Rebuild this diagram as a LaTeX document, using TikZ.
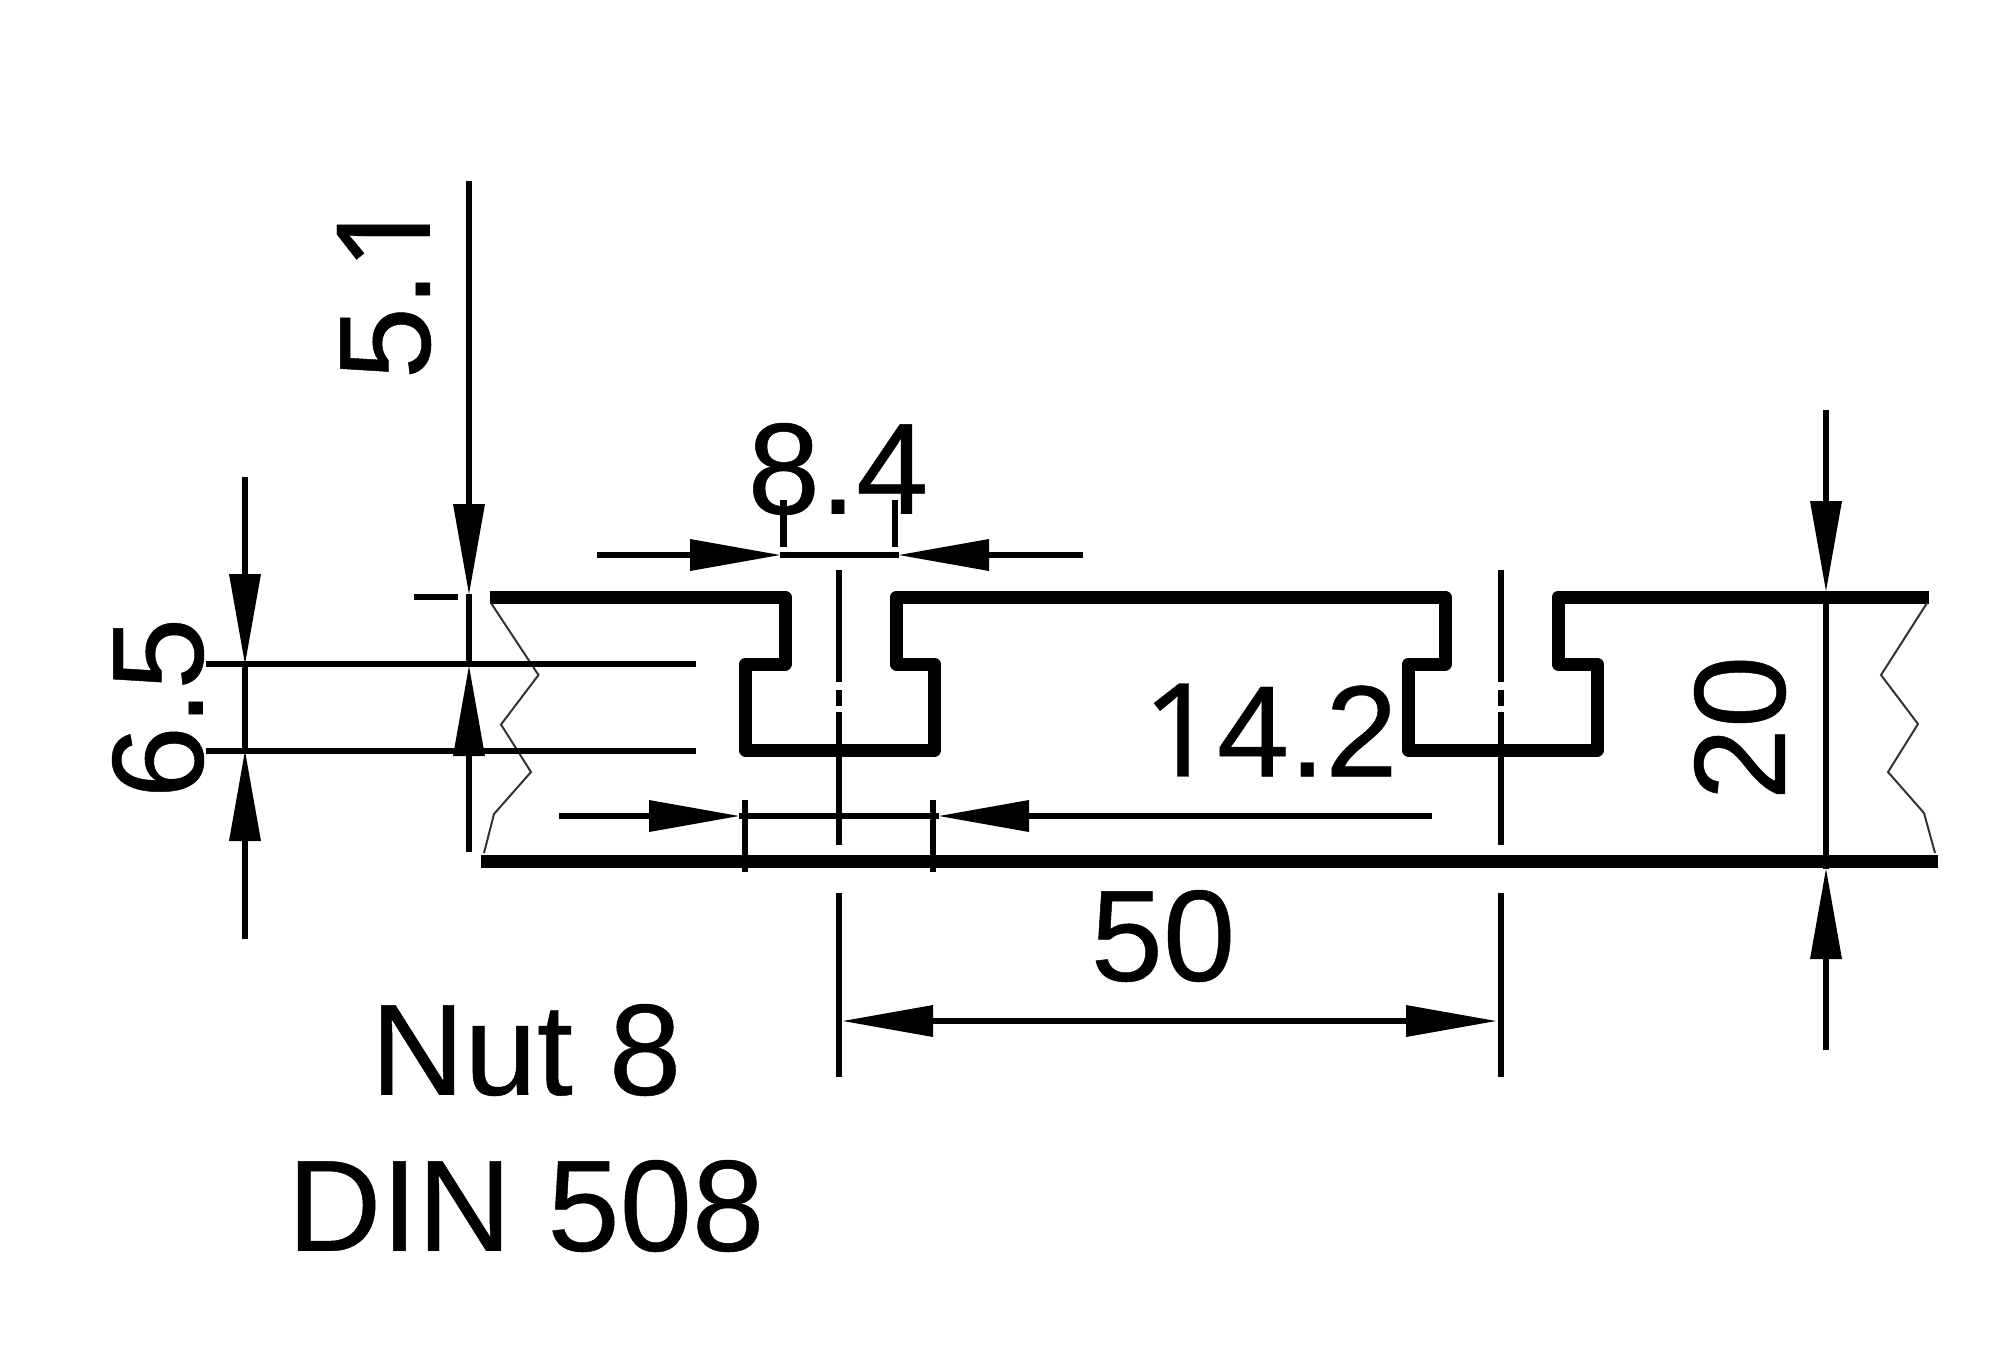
\documentclass[tikz,border=0pt]{standalone}
\usepackage{fontspec}
\setmainfont{Liberation Sans}[BoldFont=Liberation Sans, BoldFeatures={FakeBold=0.35}]
\newfontfamily\onefont{Noto Sans}[BoldFont=Noto Sans, BoldFeatures={FakeBold=0.2}]
\usetikzlibrary{arrows.meta}

\begin{document}
\begin{tikzpicture}[x=1pt,y=-1pt]
    \tikzstyle{outline}=[line width=13pt, line join=round]
    \tikzstyle{thin}=[line width=2pt, black!80]
    \tikzstyle{dimen}=[line width=6.5pt]
    \tikzstyle{connect}=[-{Triangle[length=90pt,width=32pt,line width=0pt]}, line width=6.5pt]
    \tikzstyle{connectboth}=[{Triangle[length=90pt,width=32pt,line width=0pt]}-{Triangle[length=90pt,width=32pt,line width=0pt]}, line width=6.5pt]
    \tikzstyle{size}=[inner sep=0pt, font=\fontsize{130}{130}\selectfont\bfseries]

      \useasboundingbox (0,0) rectangle (2000,1358);

      % labels
      \node[size] (lab84) at (838,469) {8.4};
      \node[size] (lab142) at (1270,730) {{\onefont 1}4.2};
      \node[size] (lab50) at (1163,936) {50};
      \node[size, rotate=90] (lab20) at (1740,728) {20};
      \node[size, rotate=90] (lab51) at (384,288) {5.{\onefont 1}};
      \node[size, rotate=90] (lab65) at (158,708) {6.5};
      \node[size] (nut) at (526,1050) {Nut 8};
      \node[size] (din) at (526,1206) {DIN 508};

      % profile
      \draw[outline] (490,597) -- (785,597) -- (785,664) -- (745.5,664) -- (745.5,750)
        -- (934.5,750) -- (934.5,664) -- (896.5,664) -- (896.5,597) -- (1445,597)
        -- (1445,664) -- (1408.5,664) -- (1408.5,750) -- (1597,750) -- (1597,664)
        -- (1558,664) -- (1558,597) -- (1929,597);
      \draw[outline] (481,861) -- (1938,861);
      \draw[thin] (491,603) -- (538.5,675) -- (501,724.5) -- (531,772) -- (494,814) -- (484,853);
      \draw[thin] (1927,603) -- (1881,675) -- (1918,724) -- (1888,772) -- (1924,813) -- (1935,853);

      % centre lines
      \foreach \cx in {839,1501} {
        \draw[dimen] (\cx,570) -- (\cx,682) (\cx,690) -- (\cx,706) (\cx,712) -- (\cx,845);
        \draw[dimen] (\cx,893) -- (\cx,1077);
      }

      % extension lines
      \draw[dimen] (414,597) -- (458,597);
      \draw[dimen] (206,664) -- (696,664);
      \draw[dimen] (206,751) -- (696,751);
      \draw[dimen] (783.5,500) -- (783.5,547);
      \draw[dimen] (895,500) -- (895,547);
      \draw[dimen] (745,800) -- (745,872);
      \draw[dimen] (933,800) -- (933,872);

      % end points of the dimensions
      \coordinate (a1) at (469,181);
      \coordinate (a2) at (469,594);
      \coordinate (a3) at (469,666);
      \coordinate (a4) at (469,852);
      \coordinate (b1) at (245,477);
      \coordinate (b2) at (245,664);
      \coordinate (b3) at (245,751);
      \coordinate (b4) at (245,939);
      \coordinate (c1) at (597,555);
      \coordinate (c2) at (780,555);
      \coordinate (c3) at (899,555);
      \coordinate (c4) at (1083,555);
      \coordinate (d1) at (559,816);
      \coordinate (d2) at (739,816);
      \coordinate (d3) at (939,816);
      \coordinate (d4) at (1432,816);
      \coordinate (e1) at (843,1021);
      \coordinate (e2) at (1496,1021);
      \coordinate (f1) at (1826,410);
      \coordinate (f2) at (1826,591);
      \coordinate (f3) at (1826,869);
      \coordinate (f4) at (1826,1050);
      \path
        (a1) edge [connect] (a2)
        (a4) edge [connect] (a3)
        (a2) edge [dimen] (a3)
        (b1) edge [connect] (b2)
        (b4) edge [connect] (b3)
        (b2) edge [dimen] (b3)
        (c1) edge [connect] (c2)
        (c4) edge [connect] (c3)
        (c2) edge [dimen] (c3)
        (d1) edge [connect] (d2)
        (d4) edge [connect] (d3)
        (d2) edge [dimen] (d3)
        (e1) edge [connectboth] (e2)
        (f1) edge [connect] (f2)
        (f4) edge [connect] (f3)
        (f2) edge [dimen] (f3);
    \end{tikzpicture}
\end{document}
